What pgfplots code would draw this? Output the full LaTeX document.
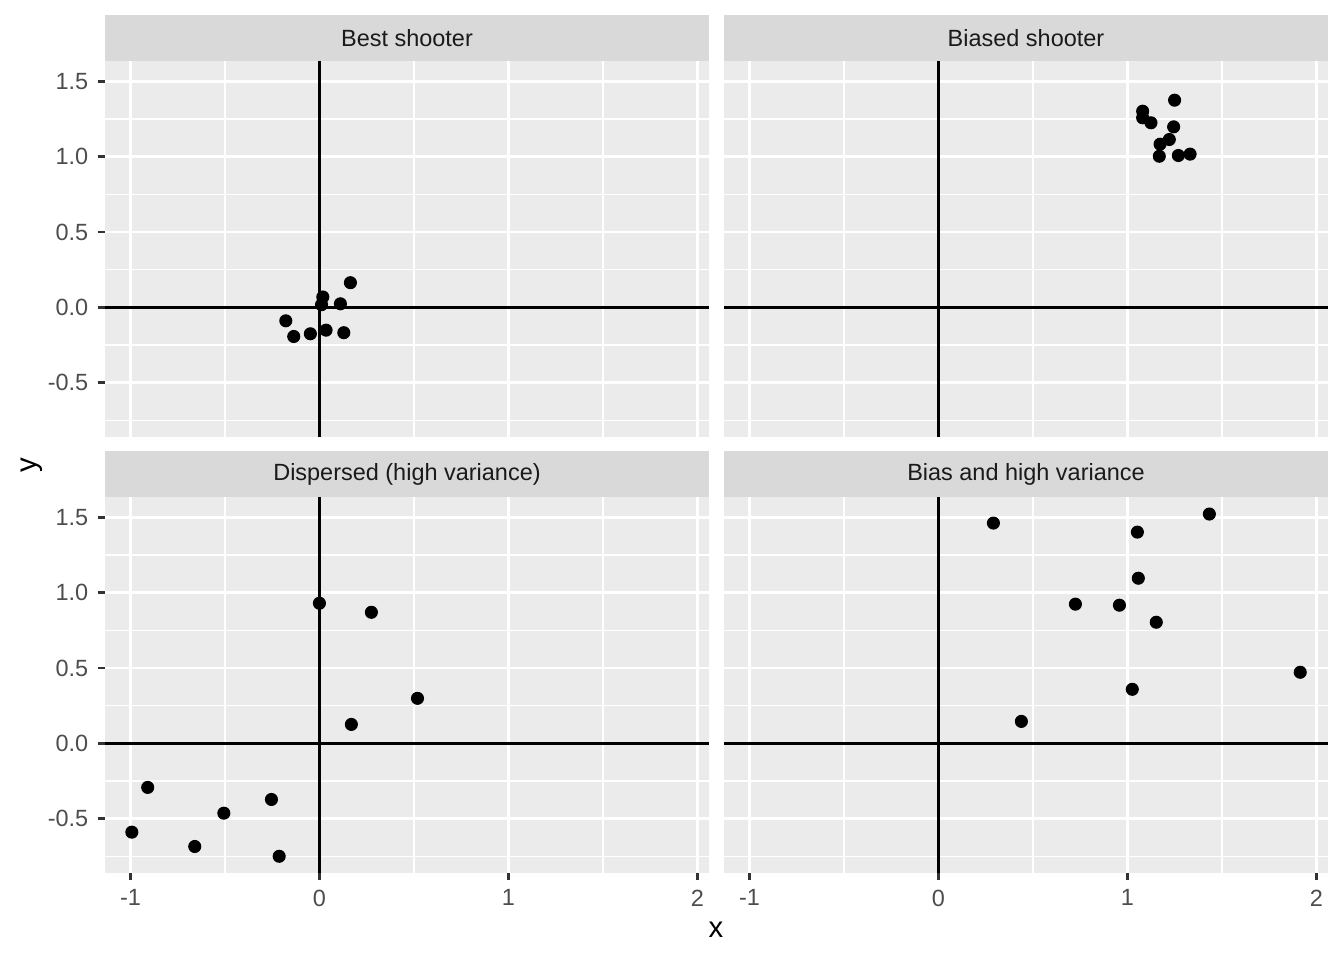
\documentclass[border=0pt]{standalone}
\usepackage{pgfplots}
\pgfplotsset{compat=1.18}
\usepackage{fontspec}
\setmainfont{Liberation Sans}
\definecolor{panelbg}{HTML}{EBEBEB}
\definecolor{stripbg}{HTML}{D9D9D9}
\definecolor{ticklab}{HTML}{4D4D4D}
\definecolor{tickcol}{HTML}{333333}
\definecolor{striptext}{HTML}{1A1A1A}
\pgfplotsset{
  facet/.style={
    scale only axis, width=226.5pt, height=141pt,
    xmin=-1.135, xmax=2.062, ymin=-0.86, ymax=1.635,
    axis background/.style={fill=panelbg},
    axis line style={draw=none},
    xtick={-1,0,1,2}, ytick={-0.5,0,0.5,1,1.5},
    minor xtick={-0.5,0.5,1.5}, minor ytick={-0.75,-0.25,0.25,0.75,1.25},
    grid=both,
    major grid style={white, line width=1.07pt},
    minor grid style={white, line width=0.53pt},
    tick align=outside, major tick length=2.75pt, minor tick length=0pt,
    tick style={color=tickcol, line width=1.07pt},
    xtick pos=left, ytick pos=left,
    ticklabel style={font=\fontsize{8.8}{10}\selectfont, text=ticklab},
    xticklabels={-1,0,1,2},
    yticklabels={-0.5,0.0,0.5,1.0,1.5},
    clip=false,
  },
  noxlab/.style={xmajorticks=false, xticklabel=\empty},
  noylab/.style={ymajorticks=false, yticklabel=\empty},
  pts/.style={only marks, mark=*, mark size=2.25pt, black},
  zl/.style={black, line width=1.07pt, no marks},
}
\newcommand{\facetstrip}[1]{%
  \fill[stripbg] (rel axis cs:0,1) rectangle ([yshift=17.25pt]rel axis cs:1,1);
  \node[font=\fontsize{8.8}{10}\selectfont, text=striptext] at ([yshift=8.625pt]rel axis cs:0.5,1) {#1};
}
\begin{document}
\begin{tikzpicture}
\path[use as bounding box] (0,0) rectangle (504pt,360pt);
% top-left
\begin{axis}[facet, noxlab, at={(39.375pt,196.125pt)}, anchor=south west]
\addplot[zl] coordinates {(0,-0.86) (0,1.635)};
\addplot[zl] coordinates {(-1.135,0) (2.062,0)};
\addplot[pts] coordinates {
(0.164,0.164) (0.018,0.069) (0.011,0.018) (0.111,0.024) (-0.178,-0.089)
(-0.136,-0.193) (-0.048,-0.175) (0.035,-0.151) (0.129,-0.168)};
\facetstrip{Best shooter}
\end{axis}
% top-right
\begin{axis}[facet, noxlab, noylab, at={(271.5pt,196.125pt)}, anchor=south west]
\addplot[zl] coordinates {(0,-0.86) (0,1.635)};
\addplot[zl] coordinates {(-1.135,0) (2.062,0)};
\addplot[pts] coordinates {
(1.250,1.375) (1.081,1.302) (1.081,1.258) (1.125,1.225) (1.245,1.198)
(1.222,1.114) (1.173,1.083) (1.169,1.003) (1.270,1.008) (1.332,1.017)};
\facetstrip{Biased shooter}
\end{axis}
% bottom-left
\begin{axis}[facet, at={(39.375pt,32.625pt)}, anchor=south west]
\addplot[zl] coordinates {(0,-0.86) (0,1.635)};
\addplot[zl] coordinates {(-1.135,0) (2.062,0)};
\addplot[pts] coordinates {
(-0.993,-0.589) (-0.909,-0.292) (-0.660,-0.684) (-0.506,-0.463) (-0.254,-0.372)
(-0.213,-0.749) (0.000,0.930) (0.275,0.870) (0.169,0.126) (0.519,0.299)};
\facetstrip{Dispersed (high variance)}
\end{axis}
% bottom-right
\begin{axis}[facet, noylab, at={(271.5pt,32.625pt)}, anchor=south west]
\addplot[zl] coordinates {(0,-0.86) (0,1.635)};
\addplot[zl] coordinates {(-1.135,0) (2.062,0)};
\addplot[pts] coordinates {
(0.291,1.462) (0.439,0.146) (0.725,0.924) (0.958,0.917) (1.053,1.402)
(1.058,1.096) (1.153,0.804) (1.026,0.359) (1.434,1.522) (1.915,0.472)};
\facetstrip{Bias and high variance}
\end{axis}
\node[font=\fontsize{11}{13}\selectfont] at (268.5pt,11.25pt) {x};
\node[font=\fontsize{11}{13}\selectfont, rotate=90] at (12pt,185.6pt) {y};
\end{tikzpicture}
\end{document}
